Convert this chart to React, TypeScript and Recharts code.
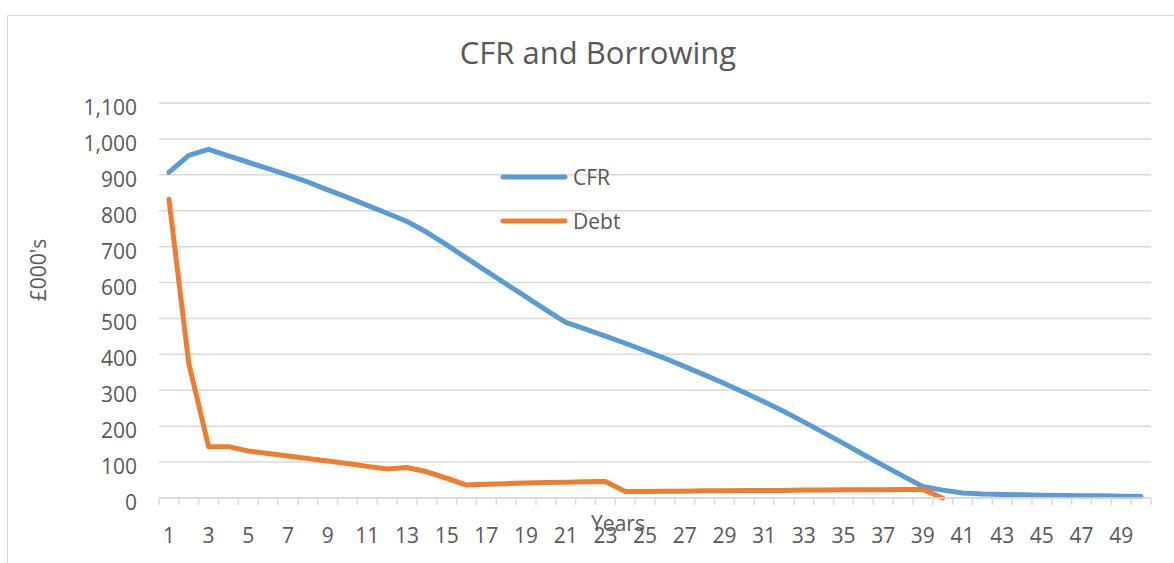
import { LineChart, Line, XAxis, YAxis, CartesianGrid, Legend } from 'recharts';

const years = [
  1, 2, 3, 4, 5, 6, 7, 8, 9, 10, 11, 12, 13, 14, 15, 16, 17, 18, 19, 20, 21, 22, 23, 24, 25,
  26, 27, 28, 29, 30, 31, 32, 33, 34, 35, 36, 37, 38, 39, 40, 41, 42, 43, 44, 45, 46, 47, 48, 49, 50,
];

const cfr = [
  907, 954, 971, 953, 935, 917, 899, 880, 858, 837, 815, 793, 770, 740, 705, 668, 632, 596, 560, 524,
  489, 470, 451, 431, 410, 389, 366, 343, 319, 294, 268, 241, 212, 182, 152, 121, 91, 61, 32, 22,
  14, 11, 10, 9, 8, 7, 6, 6, 5, 4,
];

const debt = [
  832, 375, 143, 143, 131, 124, 117, 110, 103, 96, 88, 81, 85, 73, 55, 36, 38, 40, 42, 43,
  44, 45, 46, 18, 18, 19, 19, 20, 20, 21, 21, 21, 22, 22, 23, 23, 23, 24, 24, 0,
  null, null, null, null, null, null, null, null, null, null,
];

const yTicks = [0, 100, 200, 300, 400, 500, 600, 700, 800, 900, 1000, 1100];
// category centres (labels on odd years) plus the boundaries between them (tick marks)
const boundaryTicks = [...years.map((y) => y - 0.5), years[years.length - 1] + 0.5];
const xTicks = [...years, ...boundaryTicks].sort((a, b) => a - b);

const data = years.map((year, i) => ({ year, CFR: cfr[i], Debt: debt[i] }));

const TEXT = '#595959';
const GRID = '#d9d9d9';

const XTick = ({ x, y, payload }: any) => {
  const v = payload.value;
  if (!Number.isInteger(v)) {
    return <line x1={x} y1={y} x2={x} y2={y + 7} stroke={GRID} strokeWidth={1.5} />;
  }
  if (v % 2 === 0) return <g />;
  return (
    <text x={x} y={y + 30} dy="0.71em" textAnchor="middle" fill={TEXT} fontSize={21}>
      {v}
    </text>
  );
};

const YTick = ({ x, y, payload }: any) => (
  <text x={x} y={y + 12} textAnchor="end" fill={TEXT} fontSize={21}>
    {payload.value.toLocaleString('en-US')}
  </text>
);

const YLabel = () => (
  <text x={46} y={270} transform="rotate(-90 46 270)" textAnchor="middle" fill={TEXT} fontSize={21}>
    £000's
  </text>
);

const LegendBox = ({ payload }: any) => (
  <div>
    {(payload || []).map((entry: any) => (
      <div key={entry.value} style={{ display: 'flex', alignItems: 'center', height: 44 }}>
        <svg width={70} height={10}>
          <line x1={4} y1={5} x2={66} y2={5} stroke={entry.color} strokeWidth={5} strokeLinecap="round" />
        </svg>
        <span style={{ marginLeft: 4, fontSize: 21, color: TEXT }}>{entry.value}</span>
      </div>
    ))}
  </div>
);

const App = () => {
  return (
    <div
      style={{
        position: 'fixed',
        left: 0,
        top: 0,
        width: 1174,
        height: 563,
        overflow: 'hidden',
        background: '#fff',
        fontFamily: '"Open Sans", sans-serif',
      }}
    >
      <div
        style={{
          position: 'absolute',
          left: 7,
          top: 15,
          width: 1300,
          height: 700,
          border: `1.5px solid ${GRID}`,
        }}
      />
      <div
        style={{
          position: 'absolute',
          left: 598,
          top: 31,
          transform: 'translateX(-50%)',
          fontSize: 31,
          lineHeight: '42px',
          color: TEXT,
          whiteSpace: 'nowrap',
        }}
      >
        CFR and Borrowing
      </div>
      <LineChart
        width={1174}
        height={563}
        data={data}
        margin={{ top: 103, right: 23, bottom: 15, left: 59 }}
      >
        <CartesianGrid vertical={false} stroke={GRID} strokeWidth={1.5} />
        <XAxis
          type="number"
          dataKey="year"
          domain={[0.5, 50.5]}
          ticks={xTicks}
          interval={0}
          axisLine={{ stroke: GRID, strokeWidth: 1.5 }}
          tickLine={false}
          tickSize={0}
          tickMargin={0}
          tick={<XTick />}
          height={50}
        />
        <YAxis
          domain={[0, 1100]}
          ticks={yTicks}
          interval={0}
          width={100}
          axisLine={false}
          tickLine={false}
          tickSize={0}
          tickMargin={22}
          tick={<YTick />}
          label={{ content: <YLabel /> }}
        />
        <Legend
          layout="vertical"
          align="center"
          verticalAlign="middle"
          content={<LegendBox />}
          wrapperStyle={{ left: 499, top: 155, width: 'auto', height: 'auto' }}
        />
        <Line
          type="linear"
          dataKey="CFR"
          stroke="#5B9BD5"
          strokeWidth={5}
          strokeLinecap="round"
          strokeLinejoin="round"
          dot={false}
          activeDot={false}
          isAnimationActive={false}
        />
        <Line
          type="linear"
          dataKey="Debt"
          stroke="#ED7D31"
          strokeWidth={5}
          strokeLinecap="round"
          strokeLinejoin="round"
          dot={false}
          activeDot={false}
          isAnimationActive={false}
        />
      </LineChart>
      <div
        style={{
          position: 'absolute',
          left: 618,
          top: 509,
          transform: 'translateX(-50%)',
          fontSize: 21,
          lineHeight: '28px',
          color: TEXT,
          whiteSpace: 'nowrap',
        }}
      >
        Years
      </div>
    </div>
  );
};

export default App;
